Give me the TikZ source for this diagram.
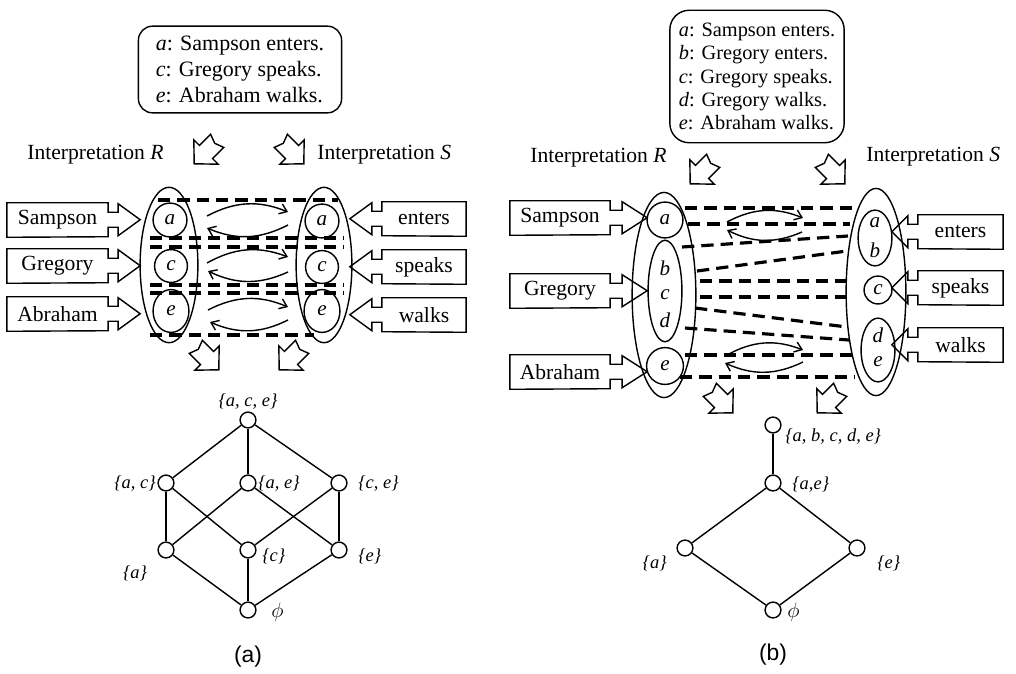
\documentclass[tikz,border=0pt]{standalone}
\usepackage{fontspec}
\setmainfont{Liberation Serif}
\newfontfamily\capfont{Liberation Sans}
\usetikzlibrary{arrows.meta,shapes.geometric}
\newcommand\PX{0.5669pt}
% label box pointing right: name, cx, cy, width(px), stem, head, text
\newcommand\mklabR[7]{%
  \node[lbox, minimum width=#4*\PX] (#1) at (#2,#3) {#7};
  \draw[lout] (#1.north west) -- (#1.north east) -- ++(0,9.5) -- ++(#5,0) -- ++(0,-8.5)
     -- ++(#6,16) -- ++(-#6,16) -- ++(0,-8.5) -- ++(-#5,0) -- ++(0,9.5) -- (#1.south west) -- cycle;}
% label box pointing left
\newcommand\mklabL[7]{%
  \node[lbox, minimum width=#4*\PX] (#1) at (#2,#3) {#7};
  \draw[lout] (#1.north east) -- (#1.north west) -- ++(0,9.5) -- ++(-#5,0) -- ++(0,-8.5)
     -- ++(-#6,16) -- ++(#6,16) -- ++(0,-8.5) -- ++(#5,0) -- ++(0,9.5) -- (#1.south east) -- cycle;}
% hollow block arrow: name, x, y, angle
\newcommand\blkarr[4]{%
  \coordinate (#1) at (#2,#3);
  \draw[lout, shift={(#1)}, rotate=#4] (-9pt,-5.3pt) -- (0pt,-5.3pt) -- (0pt,-9.8pt) -- (9.5pt,0pt)
     -- (0pt,9.8pt) -- (0pt,5.3pt) -- (-9pt,5.3pt) -- (-7pt,0pt) -- cycle;}
\tikzset{
  lbox/.style={inner sep=0pt, minimum height=34*\PX, font=\fontsize{12.3}{14}\selectfont},
  lout/.style={line width=0.8pt, line join=miter},
  tbox/.style={draw, line width=0.8pt, rounded corners=8pt, align=left, inner sep=0pt},
  itext/.style={font=\fontsize{12.3}{14}\selectfont, inner sep=0pt},
  ell/.style={ellipse, draw, line width=0.8pt, inner sep=0pt},
  letter/.style={font=\fontsize{12}{14}\selectfont\itshape, inner sep=0pt},
  dsh/.style={line width=1.8pt, dash pattern=on 7pt off 4pt},
  carr/.style={line width=0.8pt, -{Straight Barb[length=4pt,width=6pt]}},
  lat/.style={circle, draw, line width=0.8pt, minimum size=9pt, inner sep=0pt, fill=white},
  latlab/.style={font=\fontsize{10.5}{12}\selectfont\itshape, inner sep=0pt},
  latedge/.style={line width=0.8pt},
  captxt/.style={font=\capfont\fontsize{13}{15}\selectfont, inner sep=0pt}
}
\begin{document}
\begin{tikzpicture}[x=0.02cm, y=-0.02cm]
\useasboundingbox (0,0) rectangle (1016,673);

%================ (a) ================
\node[tbox, minimum width=204*\PX, minimum height=87*\PX, font=\fontsize{12.5}{14.7}\selectfont] (boxa) at (240,69.5)
  {\textit{a}: Sampson enters.\\ \textit{c}: Gregory speaks.\\ \textit{e}: Abraham walks.};
\node[itext, anchor=west] (aiR) at (27,155) {Interpretation \textit{R}};
\node[itext, anchor=west] (aiS) at (317,155) {Interpretation \textit{S}};
\blkarr{aar1}{206}{152}{225}
\blkarr{aar2}{292}{152}{315}

% dashed correspondences
\foreach \yy/\xa/\xb in {200/158/338, 238/150/344, 247/150/344, 285/150/344, 293/150/344, 335/150/314}
  \draw[dsh] (\xa,\yy) -- (\xb,\yy);

% ellipses
\node[ell, minimum width=58*\PX, minimum height=156*\PX] (aL) at (169,265) {};
\node[ell, minimum width=56*\PX, minimum height=156*\PX] (aR) at (324,265) {};
\node[ell, minimum width=34*\PX, minimum height=34*\PX] (aLa) at (170,220) {};
\node[ell, minimum width=33*\PX, minimum height=33*\PX] (aLc) at (171,266) {};
\node[ell, minimum width=36*\PX, minimum height=43*\PX] (aLe) at (171,311) {};
\node[ell, minimum width=34*\PX, minimum height=34*\PX] (aRa) at (322,221) {};
\node[ell, minimum width=33*\PX, minimum height=33*\PX] (aRc) at (322,267) {};
\node[ell, minimum width=36*\PX, minimum height=43*\PX] (aRe) at (322,311) {};
\node[letter] at (aLa) {a};
\node[letter] at (aLc) {c};
\node[letter] at (aLe) {e};
\node[letter] at (aRa) {a};
\node[letter] at (aRc) {c};
\node[letter] at (aRe) {e};

% curved arrows
\draw[carr] (207,216) to[bend left=25] (288,212);
\draw[carr] (288,225) to[bend left=25] (207,228);
\draw[carr] (207,263) to[bend left=25] (288,257);
\draw[carr] (288,272) to[bend left=25] (208,271);
\draw[carr] (208,310) to[bend left=25] (288,307);
\draw[carr] (288,320) to[bend left=25] (210,322);

% label boxes
\mklabR{aSam}{57.5}{220}{101}{10}{22}{Sampson}
\mklabR{aGre}{57.5}{266}{101}{10}{22}{Gregory}
\mklabR{aAbr}{57.5}{314}{101}{10}{22}{Abraham}
\mklabL{aEnt}{424}{219}{84}{10}{22}{enters}
\mklabL{aSpe}{424}{267}{84}{10}{22}{speaks}
\mklabL{aWal}{424}{315}{84}{10}{22}{walks}

\blkarr{aar3}{207}{358}{315}
\blkarr{aar4}{291}{358}{225}

% lattice (a)
\node[lat] (t) at (248,420) {};
\node[lat] (ac) at (166,483) {};
\node[lat] (ae) at (248,483) {};
\node[lat] (ce) at (339,483) {};
\node[lat] (na) at (166,550) {};
\node[lat] (nc) at (248,550) {};
\node[lat] (ne) at (339,550) {};
\node[lat] (phi) at (248,610) {};
\foreach \u/\v in {t/ac, t/ae, t/ce, ac/na, ac/nc, ae/na, ae/ne, ce/nc, ce/ne, na/phi, nc/phi, ne/phi}
  \draw[latedge] (\u) -- (\v);
\node[latlab] (lt) at (248,402) {\{a, c, e\}};
\node[latlab, anchor=east] (lac) at (156,484) {\{a, c\}};
\node[latlab, anchor=west] (lae) at (258,484) {\{a, e\}};
\node[latlab, anchor=west] (lce) at (358,484) {\{c, e\}};
\node[latlab] (la) at (135,573) {\{a\}};
\node[latlab, anchor=west] (lc) at (262,556) {\{c\}};
\node[latlab, anchor=west] (le) at (358,556) {\{e\}};
\node[inner sep=0pt, anchor=west, font=\large] (lphi) at (271,612) {$\phi$};
\node[captxt] (capa) at (248,657) {(a)};

%================ (b) ================
\node[tbox, rounded corners=11pt, minimum width=175*\PX, minimum height=133*\PX, font=\fontsize{11.6}{13.3}\selectfont] (boxb) at (757,76.5)
  {\textit{a}: Sampson enters.\\ \textit{b}: Gregory enters.\\ \textit{c}: Gregory speaks.\\ \textit{d}: Gregory walks.\\ \textit{e}: Abraham walks.};
\node[itext, anchor=west] (biR) at (530,158) {Interpretation \textit{R}};
\node[itext, anchor=west] (biS) at (866,157) {Interpretation \textit{S}};
\blkarr{bar1}{702}{172}{225}
\blkarr{bar2}{833}{172}{315}

% dashed lines
\foreach \ya/\xa/\yb/\xb in {208/685/208/852, 224/688/224/850, 247/682/236/848, 271/697/251/847,
   281/700/281/847, 297/700/297/847, 308/695/327/847, 328/685/340/849, 355/685/355/852, 377/680/377/855}
  \draw[dsh] (\xa,\ya) -- (\xb,\yb);

\node[ell, minimum width=64*\PX, minimum height=206*\PX] (bL) at (664,295) {};
\node[ell, minimum width=36*\PX, minimum height=36*\PX] (bLa) at (665,220) {};
\node[ell, minimum width=34*\PX, minimum height=102*\PX] (bLbcd) at (665,291) {};
\node[ell, minimum width=37*\PX, minimum height=37*\PX] (bLe) at (665,366) {};
\node[ell, minimum width=60*\PX, minimum height=208*\PX] (bR) at (876,292) {};
\node[ell, minimum width=34*\PX, minimum height=56*\PX] (bRab) at (875,238) {};
\node[ell, minimum width=28*\PX, minimum height=28*\PX] (bRc) at (878,290) {};
\node[ell, minimum width=34*\PX, minimum height=64*\PX] (bRde) at (878,350) {};
\node[letter] at (bLa) {a};
\node[letter] at (665,268) {b};
\node[letter] at (665,295) {c};
\node[letter] at (665,320) {d};
\node[letter] at (bLe) {e};
\node[letter] at (875,223) {a};
\node[letter] at (875,250) {b};
\node[letter] at (bRc) {c};
\node[letter] at (878,335) {d};
\node[letter] at (878,362) {e};

\draw[carr] (727,222) to[bend left=25] (803,218);
\draw[carr] (802,232) to[bend left=25] (727,230);
\draw[carr] (727,355) to[bend left=25] (803,350);
\draw[carr] (803,362) to[bend left=25] (725,363);

\mklabR{bSam}{560}{218}{100}{12}{25}{Sampson}
\mklabR{bGre}{560}{291}{100}{12}{25}{Gregory}
\mklabR{bAbr}{560}{372}{100}{12}{25}{Abraham}
\mklabL{bEnt}{960.5}{232}{85}{10}{16}{enters}
\mklabL{bSpe}{960.5}{288}{85}{10}{16}{speaks}
\mklabL{bWal}{960.5}{345}{85}{10}{16}{walks}

\blkarr{bar3}{721}{401}{315}
\blkarr{bar4}{829}{401}{225}

% lattice (b)
\node[lat] (bt) at (773,425) {};
\node[lat] (bae) at (773,483) {};
\node[lat] (ba) at (685,548) {};
\node[lat] (be) at (857,548) {};
\node[lat] (bphi) at (773,610) {};
\foreach \u/\v in {bt/bae, bae/ba, bae/be, ba/bphi, be/bphi}
  \draw[latedge] (\u) -- (\v);
\node[latlab, anchor=west] (blt) at (785,437) {\{a, b, c, d, e\}};
\node[latlab, anchor=west] (blae) at (792,485) {\{a,e\}};
\node[latlab, anchor=east] (bla) at (667,563) {\{a\}};
\node[latlab, anchor=west] (ble) at (877,563) {\{e\}};
\node[inner sep=0pt, anchor=west, font=\large] (blphi) at (787,612) {$\phi$};
\node[captxt] (capb) at (773,655) {(b)};
\end{tikzpicture}
\end{document}
